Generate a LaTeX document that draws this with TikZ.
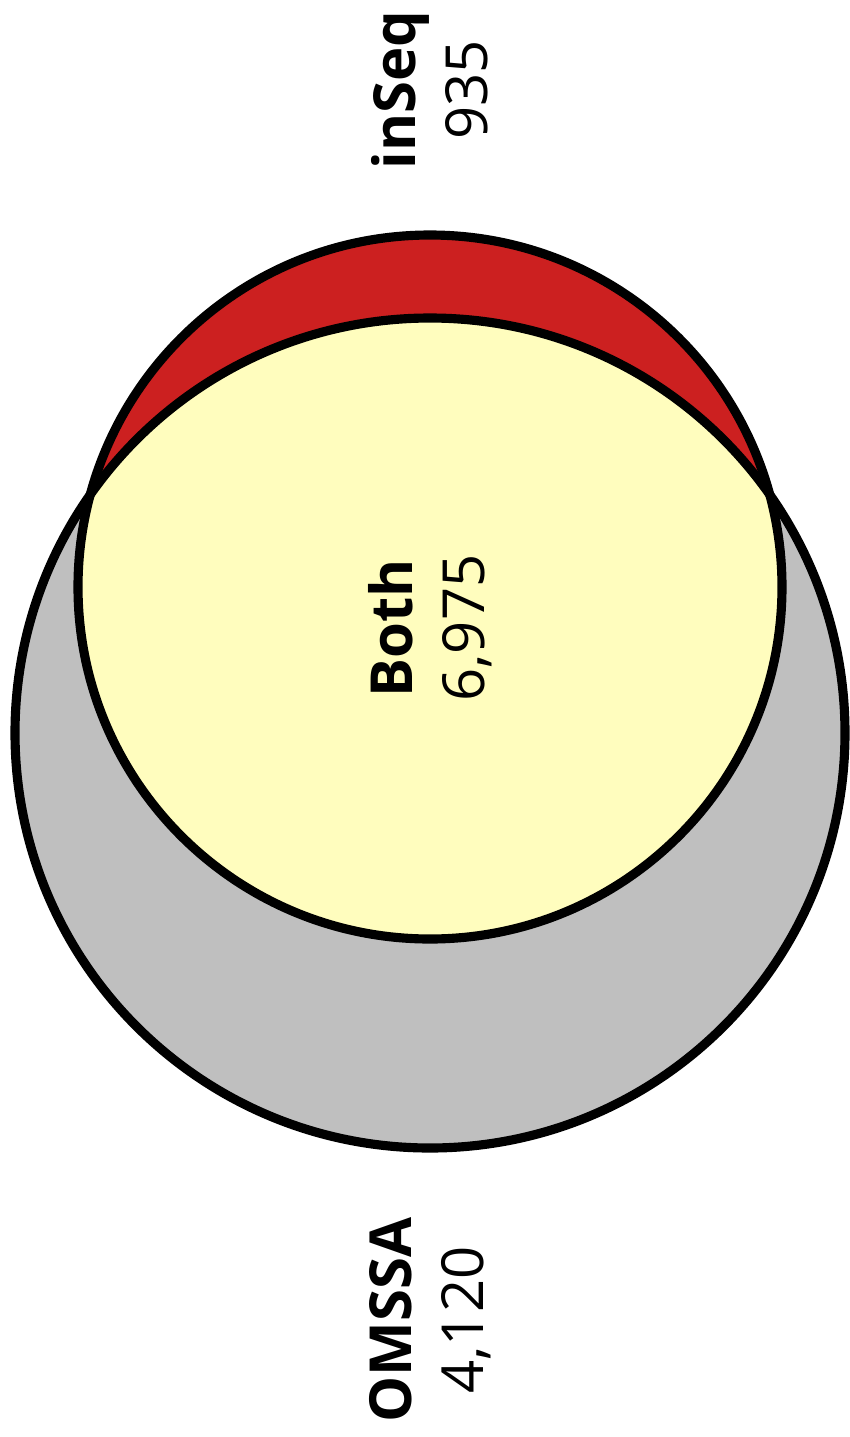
\documentclass[tikz,border=0pt]{standalone}
\usepackage{fontspec}
\setmainfont{Open Sans}
\usepackage[dvipsnames]{xcolor}
\usetikzlibrary{calc}
\definecolor{inseqred}{RGB}{204,32,32}
\definecolor{bothyellow}{RGB}{255,253,190}
\definecolor{omssagrey}{RGB}{191,191,191}

\begin{document}
\begin{tikzpicture}[
        line width=2.6pt,
        draw=black,
        vennlabel/.style={rotate=90, align=center,
            font=\fontsize{16.5}{20.4}\selectfont},
    ]

    \def\xmid{4.3}
    \def\ygrey{-7.33}
    \def\rgrey{4.15}
    \def\yred{-5.87}
    \def\rred{3.52}

    \useasboundingbox (0,0) rectangle (8.5,-14.37);

    % OMSSA and inSeq
    \fill[omssagrey] (\xmid,\ygrey) circle (\rgrey);
    \fill[inseqred] (\xmid,\yred) circle (\rred);

    % Both
    \begin{scope}
        \clip (\xmid,\ygrey) circle (\rgrey);
        \fill[bothyellow] (\xmid,\yred) circle (\rred);
    \end{scope}

    \draw (\xmid,\ygrey) circle (\rgrey);
    \draw (\xmid,\yred) circle (\rred);

    \node[vennlabel] (inseq) at (\xmid,-0.9) {\textbf{inSeq}\\935};
    \node[vennlabel] (both) at (\xmid,-6.28) {\textbf{Both}\\6,975};
    \node[vennlabel] (omssa) at (\xmid,-13.2) {\textbf{OMSSA}\\4,120};

\end{tikzpicture}
\end{document}
